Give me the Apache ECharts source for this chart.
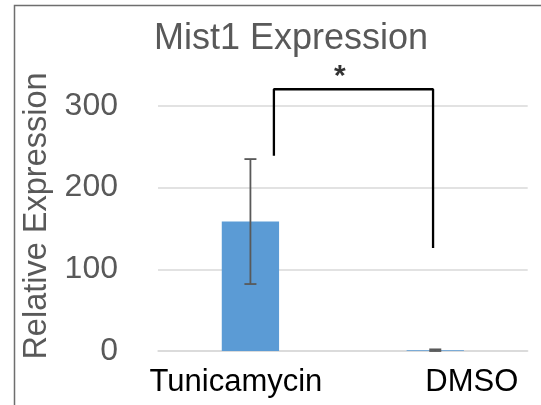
<!DOCTYPE html>
<html>
<head>
<meta charset="utf-8">
<script src="https://cdn.jsdelivr.net/npm/echarts@6/dist/echarts.min.js"></script>
<style>
  html, body { margin: 0; padding: 0; background: #ffffff; }
  #chart { width: 541px; height: 405px; }
</style>
</head>
<body>
<div id="chart"></div>
<script>
// Mist1 relative expression, treatment vs vehicle
const categories = ['Tunicamycin', 'DMSO'];
const meanValues = [158.5, 1];
const errorValues = [76.5, 1];
const yTickValues = [0, 100, 200, 300];

// Significance bracket, in category-index / value units
const bracketPoints = [[0.127, 239], [0.127, 320.5], [0.988, 320.5], [0.988, 126]];
const starPoint = [0.484, 336];
const starText = '*';

const FONT = '"Liberation Sans", Arial, Helvetica, sans-serif';
const GRAY = '#595959';

const chart = echarts.init(document.getElementById('chart'), null, { renderer: 'canvas' });

const errorData = categories.map((c, i) => [i, meanValues[i], errorValues[i]]);

const option = {
  animation: false,
  backgroundColor: '#ffffff',
  title: {
    text: 'Mist1 Expression',
    left: 154,
    top: 21,
    padding: 0,
    textStyle: { fontFamily: FONT, fontSize: 36, fontWeight: 'normal', color: GRAY }
  },
  graphic: [{
    type: 'rect',
    shape: { x: 14.5, y: 5.5, width: 700, height: 600 },
    style: { fill: 'none', stroke: '#6e6e6e', lineWidth: 1.5 },
    silent: true
  }],
  grid: { left: 158, right: 13.3, top: 106, bottom: 54 },
  xAxis: [{
    type: 'category',
    data: [
      { value: categories[0], textStyle: { padding: [0, 29, 0, 0] } },
      { value: categories[1], textStyle: { padding: [0, 0, 0, 73] } }
    ],
    axisLine: { show: true, lineStyle: { color: '#d9d9d9', width: 1.5 } },
    axisTick: { show: false },
    axisLabel: { interval: 0, hideOverlap: false, fontFamily: FONT, fontSize: 31, color: '#000000', margin: 16 }
  }, {
    type: 'value',
    min: -0.5,
    max: 1.5,
    show: false
  }],
  yAxis: {
    type: 'value',
    min: yTickValues[0],
    max: yTickValues[yTickValues.length - 1],
    interval: 100,
    name: 'Relative Expression',
    nameLocation: 'middle',
    nameGap: 96,
    nameTextStyle: { fontFamily: FONT, fontSize: 32.5, color: GRAY, padding: [0, 0, 0, 25] },
    axisLine: { show: false },
    axisTick: { show: false },
    splitLine: { lineStyle: { color: '#d9d9d9', width: 1.5 } },
    axisLabel: { fontFamily: FONT, fontSize: 32, color: GRAY, margin: 40 }
  },
  series: [{
    type: 'bar',
    data: meanValues,
    barWidth: '31%',
    itemStyle: { color: '#5B9BD5' },
    z: 2
  }, {
    type: 'custom',
    data: errorData,
    z: 3,
    renderItem: function (params, api) {
      const idx = api.value(0);
      const mean = api.value(1);
      const err = api.value(2);
      const hi = api.coord([idx, mean + err]);
      const lo = api.coord([idx, mean - err]);
      const cap = 6;
      const style = { stroke: GRAY, lineWidth: 1.8 };
      return {
        type: 'group',
        children: [
          { type: 'line', shape: { x1: hi[0], y1: hi[1], x2: lo[0], y2: lo[1] }, style: style },
          { type: 'line', shape: { x1: hi[0] - cap, y1: hi[1], x2: hi[0] + cap, y2: hi[1] }, style: style },
          { type: 'line', shape: { x1: lo[0] - cap, y1: lo[1], x2: lo[0] + cap, y2: lo[1] }, style: style }
        ]
      };
    }
  }, {
    type: 'line',
    xAxisIndex: 1,
    data: bracketPoints,
    symbol: 'none',
    clip: false,
    lineStyle: { color: '#000000', width: 2.3 },
    z: 4
  }, {
    type: 'scatter',
    xAxisIndex: 1,
    data: [starPoint],
    symbolSize: 1,
    itemStyle: { color: 'rgba(0,0,0,0)' },
    clip: false,
    label: {
      show: true,
      position: 'inside',
      formatter: starText,
      fontFamily: FONT,
      fontSize: 30,
      fontWeight: 'bold',
      color: '#000000'
    },
    z: 5
  }]
};

chart.setOption(option);
</script>
</body>
</html>
